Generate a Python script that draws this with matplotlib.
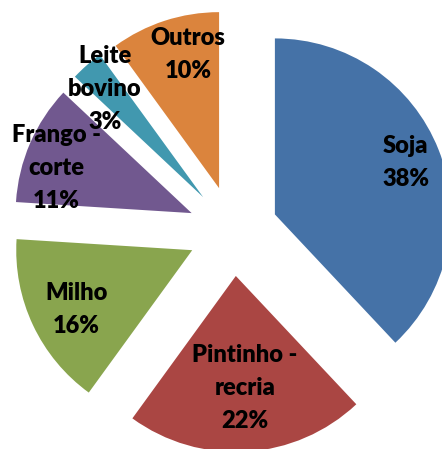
import numpy as np
import matplotlib
matplotlib.use("Agg")
import matplotlib.pyplot as plt

# dados do gráfico
categorias = ["Soja", "Pintinho -\nrecria", "Milho", "Frango -\ncorte", "Leite\nbovino", "Outros"]
valores = [38, 22, 16, 11, 3, 10]
cores = ["#4572A7", "#AA4643", "#89A54E", "#71588F", "#4198AF", "#DB843D"]

# posição do rótulo: distância (fração do raio) e desvio de ângulo (graus)
dist_rotulo = [0.80, 0.64, 0.74, 0.81, 0.83, 0.78]
desvio_rotulo = [0, 1, 2, 5, 1, -5]

fig = plt.figure(figsize=(4.42, 4.49), dpi=100)
ax = fig.add_axes([0, 0, 1, 1])

wedges, _ = ax.pie(
    valores,
    colors=cores,
    explode=[0.256] * len(valores),
    startangle=90,
    counterclock=False,
    radius=1,
    wedgeprops=dict(linewidth=0),
)

total = sum(valores)
for w, cat, v, d, da in zip(wedges, categorias, valores, dist_rotulo, desvio_rotulo):
    meio = np.deg2rad((w.theta1 + w.theta2) / 2 + da)
    cx, cy = w.center
    ax.text(cx + d * np.cos(meio), cy + d * np.sin(meio),
            f"{cat}\n{round(100 * v / total)}%",
            ha="center", va="center", multialignment="center",
            fontsize=17, fontweight="heavy", family=["Lato", "DejaVu Sans"],
            linespacing=1.62, color="black")

# centro da pizza em (233, 231) px, raio 176 px
ax.set_xlim(-233 / 176, 209 / 176)
ax.set_ylim(-218 / 176, 231 / 176)
ax.set_aspect("auto")
ax.axis("off")

fig.savefig("out.png", dpi=100)
